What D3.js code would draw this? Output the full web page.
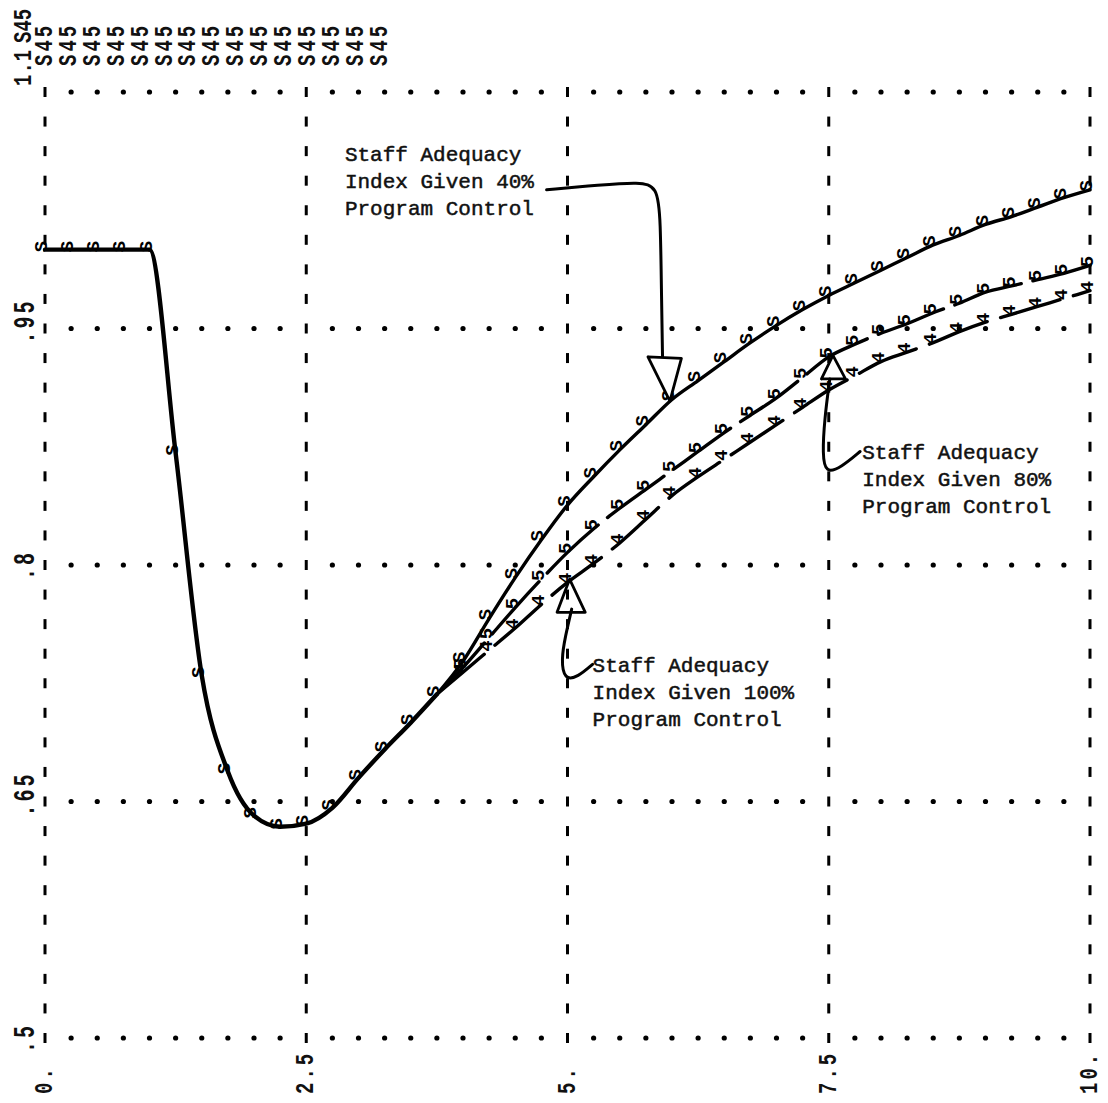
<!DOCTYPE html>
<html><head><meta charset="utf-8">
<script src="https://cdn.jsdelivr.net/npm/d3@7"></script>
<style>body{margin:0;background:#fff} svg{display:block}</style>
</head><body><div id="chart"></div>
<script>
// ---------- data ----------
const xTicks = [0, 2.5, 5, 7.5, 10];
const xTickLabels = ["0.", "2.5", "5.", "7.5", "10."];
const yTicks = [0.5, 0.65, 0.8, 0.95, 1.1];
const yTickLabels = [".5", ".65", ".8", ".95", "1.1"];
const headerFirstScale = "1.1";
const headerFirstSymbols = "S45";
const headerColumns = ["S45","S45","S45","S45","S45","S45","S45","S45","S45","S45","S45","S45","S45","S45","S45"];

// shared path of all three runs (printed every 0.25 time units)
const baseTime  = [0, 0.25, 0.5, 0.75, 1.0, 1.25, 1.5, 1.75, 2.0, 2.25, 2.5, 2.75, 3.0, 3.25, 3.5, 3.75];
const baseValue = [1.0, 1.0, 1.0, 1.0, 1.0, 0.871, 0.730, 0.669, 0.641, 0.634, 0.636, 0.646, 0.665, 0.683, 0.700, 0.718];

// Staff Adequacy Index given 40% program control (symbol S)
const s40Time  = [4.0, 4.25, 4.5, 4.75, 5.0, 5.25, 5.5, 5.75, 6.0, 6.25, 6.5, 6.75, 7.0, 7.25, 7.5, 7.75, 8.0, 8.25, 8.5, 8.75, 9.0, 9.25, 9.5, 9.75, 10.0];
const s40Value = [0.739, 0.766, 0.792, 0.816, 0.838, 0.856, 0.873, 0.889, 0.905, 0.917, 0.929, 0.941, 0.952, 0.962, 0.971, 0.979, 0.987, 0.995, 1.003, 1.009, 1.016, 1.021, 1.027, 1.033, 1.038];

// given 80% program control (symbol 5)
const s80Time  = [4.0, 4.25, 4.5, 4.75, 5.0, 5.25, 5.5, 5.75, 6.0, 6.25, 6.5, 6.75, 7.0, 7.25, 7.5, 7.75, 8.0, 8.25, 8.5, 8.75, 9.0, 9.25, 9.5, 9.75, 10.0];
const s80Value = [0.735, 0.754, 0.773, 0.791, 0.808, 0.823, 0.836, 0.848, 0.860, 0.872, 0.884, 0.895, 0.906, 0.919, 0.932, 0.940, 0.947, 0.953, 0.960, 0.966, 0.973, 0.977, 0.981, 0.985, 0.990];

// given 100% program control (symbol 4)
const s100Time  = [4.0, 4.25, 4.5, 4.75, 5.0, 5.25, 5.5, 5.75, 6.0, 6.25, 6.5, 6.75, 7.0, 7.25, 7.5, 7.75, 8.0, 8.25, 8.5, 8.75, 9.0, 9.25, 9.5, 9.75, 10.0];
const s100Value = [0.732, 0.746, 0.760, 0.775, 0.789, 0.801, 0.814, 0.829, 0.844, 0.856, 0.867, 0.878, 0.889, 0.900, 0.911, 0.920, 0.929, 0.935, 0.941, 0.948, 0.954, 0.959, 0.964, 0.969, 0.974];

const annotationLines40  = ["Staff Adequacy", "Index Given 40%", "Program Control"];
const annotationLines80  = ["Staff Adequacy", "Index Given 80%", "Program Control"];
const annotationLines100 = ["Staff Adequacy", "Index Given 100%", "Program Control"];

// ---------- drawing ----------
const W = 1108, H = 1103;
const svg = d3.select("#chart").append("svg").attr("width", W).attr("height", H);
const x = d3.scaleLinear().domain([0, 10]).range([45, 1090]);
const y = d3.scaleLinear().domain([0.5, 1.1]).range([1038, 92]);
const MONO = "'Liberation Mono', 'DejaVu Sans Mono', monospace";

const zip = (ts, vs) => ts.map((t, i) => ({t, v: vs[i]}));
const base = zip(baseTime, baseValue);
const lastBase = base[base.length - 1];
const ser40 = [lastBase, ...zip(s40Time, s40Value)];
const ser80 = [lastBase, ...zip(s80Time, s80Value)];
const ser100 = [lastBase, ...zip(s100Time, s100Value)];

// grid: dotted horizontal rows
const gridG = svg.append("g");
yTicks.forEach(v => {
  const dots = d3.range(0, 10.001, 0.25).filter(t => Math.abs(t / 2.5 - Math.round(t / 2.5)) > 1e-6);
  gridG.selectAll(null).data(dots).enter().append("circle")
    .attr("cx", t => x(t)).attr("cy", y(v)).attr("r", 2.6).attr("fill", "#000");
});
// grid: dashed vertical columns
xTicks.forEach(t => {
  const steps = d3.range(0.5, 1.1001, 0.15 / 8);
  gridG.selectAll(null).data(steps).enter().append("rect")
    .attr("x", x(t) - 1.5).attr("y", v => y(v) - 5).attr("width", 3).attr("height", 10).attr("fill", "#000");
});

// rotated printer-style text helper
const labG = svg.append("g").attr("font-family", MONO).attr("font-weight", "bold").attr("fill", "#111");
function rtext(g, str, px, py, size, spacing, stretch) {
  return g.append("text").attr("transform", `translate(${px},${py}) rotate(-90) scale(1,${stretch})`)
    .attr("font-size", size).attr("letter-spacing", spacing).text(str);
}
xTicks.forEach((t, i) => rtext(labG, xTickLabels[i], x(t) + 7, 1094, 19, 3, 1.35));
yTicks.forEach((v, i) => {
  if (v === 1.1) return;
  rtext(labG, yTickLabels[i], 34, y(v) + 15, 20, 3, 1.45);
});
// header (scale + plot symbols)
rtext(labG, headerFirstScale, 31, 86, 19, 1, 1.35);
rtext(labG, headerFirstSymbols, 31, 43, 19, 0, 1.35);
headerColumns.forEach((s, i) => rtext(labG, s, 52 + i * 23.9, 66, 19, 3, 1.35));

// curves
const line = d3.line().x(d => x(d.t)).y(d => y(d.v)).curve(d3.curveMonotoneX);
const curveG = svg.append("g").attr("fill", "none").attr("stroke", "#000").attr("stroke-linecap", "round").attr("stroke-linejoin", "round");
curveG.append("path").attr("d", line(base)).attr("stroke-width", 4.4);
curveG.append("path").attr("d", line(ser40)).attr("stroke-width", 3.4);
curveG.append("path").attr("d", line(ser80)).attr("stroke-width", 3.4).attr("stroke-dasharray", "70,12");
curveG.append("path").attr("d", line(ser100)).attr("stroke-width", 3.4).attr("stroke-dasharray", "62,14");

// plot symbols on curves
const markG = svg.append("g").attr("font-family", MONO).attr("font-size", 19).attr("font-weight", "bold").attr("fill", "#000");
function marks(data, sym, dx, dy) {
  markG.selectAll(null).data(data).enter().append("text")
    .attr("transform", d => `translate(${x(d.t) + dx},${y(d.v) + dy}) rotate(-90)`)
    .attr("text-anchor", "middle").attr("dominant-baseline", "central").text(sym);
}
marks(base, "S", -3, -3);
marks(zip(s40Time, s40Value), "S", -3, -4);
marks(zip(s80Time, s80Value), "5", -2, -4);
marks(zip(s100Time, s100Value), "4", -2, -4);

// annotations
const annG = svg.append("g").attr("font-family", MONO).attr("font-size", 21).attr("fill", "#111")
  .attr("stroke", "#111").attr("stroke-width", 0.5);
function block(lines, t, v) {
  lines.forEach((s, i) => {
    annG.append("text").attr("x", x(t)).attr("y", y(v) + i * 27).text(s);
  });
}
block(annotationLines40, 2.87, 1.056);
block(annotationLines100, 5.24, 0.732);
block(annotationLines80, 7.82, 0.867);

const arrowLine = d3.line().x(d => x(d[0])).y(d => y(d[1])).curve(d3.curveBasis);
const polyLine = d3.line().x(d => x(d[0])).y(d => y(d[1]));
const arrG = svg.append("g").attr("stroke", "#000").attr("stroke-width", 3).attr("fill", "none").attr("stroke-linecap", "round");
// 40% arrow
arrG.append("path").attr("d", arrowLine([[4.80, 1.038], [5.31, 1.041], [5.69, 1.043], [5.86, 1.040], [5.89, 1.020], [5.90, 0.968], [5.91, 0.930]]));
arrG.append("path").attr("d", polyLine([[5.77, 0.932], [6.09, 0.931], [5.98, 0.904], [5.77, 0.932]]))
  .attr("fill", "#fff").attr("stroke-width", 2.8).attr("stroke-linejoin", "round");
// 100% arrow
arrG.append("path").attr("d", arrowLine([[5.24, 0.737], [5.10, 0.729], [4.97, 0.727], [4.94, 0.740], [4.98, 0.755], [5.04, 0.772]]));
arrG.append("path").attr("d", polyLine([[4.90, 0.770], [5.17, 0.770], [5.02, 0.791], [4.90, 0.770]]))
  .attr("stroke-width", 2.8).attr("stroke-linejoin", "round");
// 80% arrow
arrG.append("path").attr("d", arrowLine([[7.80, 0.872], [7.62, 0.862], [7.47, 0.858], [7.44, 0.870], [7.46, 0.893], [7.51, 0.918]]));
arrG.append("path").attr("d", polyLine([[7.43, 0.918], [7.66, 0.918], [7.54, 0.933], [7.43, 0.918]]))
  .attr("stroke-width", 2.8).attr("stroke-linejoin", "round");
</script>
</body></html>
